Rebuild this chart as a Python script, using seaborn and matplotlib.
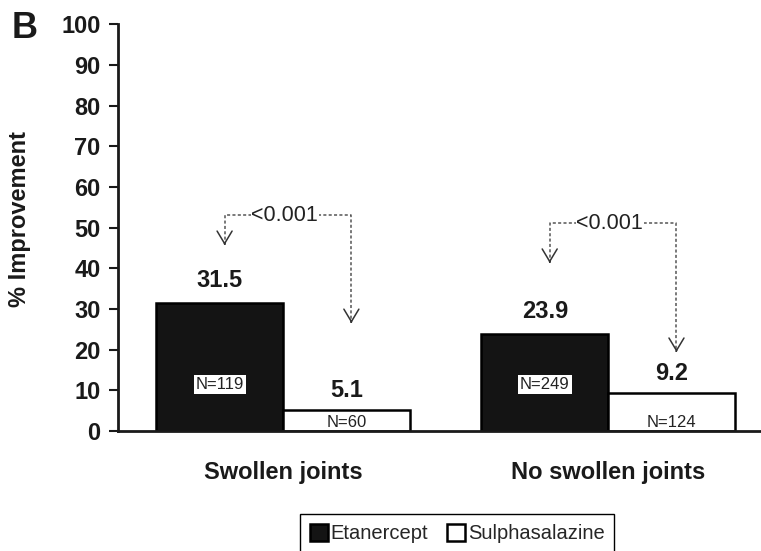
import matplotlib
matplotlib.use('Agg')
import matplotlib.pyplot as plt
import seaborn as sns
import pandas as pd

# ---- data ----
categories = ['Swollen joints', 'No swollen joints']
treatments = ['Etanercept', 'Sulphasalazine']
etanercept = [31.5, 23.9]
sulphasalazine = [5.1, 9.2]
n_etanercept = [119, 249]
n_sulphasalazine = [60, 124]
p_values = ['<0.001', '<0.001']
bracket_top = [53.0, 51.0]
tip_left = [45.7, 41.3]
tip_right = [26.5, 19.4]
yticks = [0, 10, 20, 30, 40, 50, 60, 70, 80, 90, 100]

df = pd.DataFrame({
    'group': categories + categories,
    'treatment': [treatments[0]] * len(categories) + [treatments[1]] * len(categories),
    'value': etanercept + sulphasalazine,
})

sns.set_theme(style='white')
plt.rcParams['font.family'] = ['Liberation Sans', 'DejaVu Sans']

fig = plt.figure(figsize=(7.61, 5.51), dpi=100)
ax = fig.add_axes([0.155, 0.218, 0.845, 0.738])

sns.barplot(data=df, x='group', y='value', hue='treatment', order=categories,
            hue_order=treatments, palette=['#141414', 'white'], edgecolor='black',
            linewidth=1.8, width=0.78, ax=ax, saturation=1)

handles, labels = ax.get_legend_handles_labels()
if ax.get_legend() is not None:
    ax.get_legend().remove()

ax.set_ylim(0, 100)
ax.set_xlim(-0.508, 1.47)
ax.set_yticks(yticks)
ax.set_yticklabels([str(t) for t in yticks], fontsize=17, fontweight='bold')
ax.set_xticks(range(len(categories)))
ax.set_xticklabels(categories, fontsize=17, fontweight='bold')
ax.tick_params(axis='y', direction='out', length=6.5, width=1.5, pad=6, left=True, colors='#1a1a1a')
ax.tick_params(axis='x', length=0, pad=22, colors='#1a1a1a')
ax.set_xlabel('')
ax.set_ylabel('% Improvement', fontsize=17, fontweight='bold', color='#1a1a1a')
ax.yaxis.set_label_coords(-0.136, 0.521)
for s in ['top', 'right']:
    ax.spines[s].set_visible(False)
for s in ['left', 'bottom']:
    ax.spines[s].set_linewidth(2)
    ax.spines[s].set_color('#1a1a1a')

cont_e = ax.containers[0]
cont_s = ax.containers[1]

for i in range(len(categories)):
    pe = cont_e.patches[i]
    ps = cont_s.patches[i]
    xe = pe.get_x() + pe.get_width() / 2
    xs = ps.get_x() + ps.get_width() / 2
    # value labels
    ax.text(xe, etanercept[i] + 2.6, f'{etanercept[i]}', ha='center', va='bottom',
            fontsize=17, fontweight='bold', color='#1a1a1a')
    ax.text(xs, sulphasalazine[i] + 2.0, f'{sulphasalazine[i]}', ha='center', va='bottom',
            fontsize=17, fontweight='bold', color='#1a1a1a')
    # N labels
    ax.text(xe, 11.5, f'N={n_etanercept[i]}', ha='center', va='center', fontsize=12,
            color='#222222', bbox=dict(fc='white', ec='none', pad=1.5))
    ax.text(xs, 2.0, f'N={n_sulphasalazine[i]}', ha='center', va='center', fontsize=12,
            color='#222222')
    # bracket
    xl = xe + 0.015
    xr = xs + 0.015
    top = bracket_top[i]
    ax.plot([xl, xl, xr, xr], [tip_left[i], top, top, tip_right[i]], color='#555555',
            lw=1.1, ls=(0, (2, 1.5)), zorder=4)
    for xx, tip in [(xl, tip_left[i]), (xr, tip_right[i])]:
        ax.annotate('', xy=(xx, tip), xytext=(xx, tip + 0.5),
                    arrowprops=dict(arrowstyle='->,head_length=0.5,head_width=0.3',
                                    color='#333333', lw=1.1, shrinkA=0, shrinkB=0,
                                    mutation_scale=18), zorder=5)
    ax.text((xl + xr) / 2 - 0.01, top, p_values[i], ha='center', va='center', fontsize=15.5,
            color='#222222', zorder=6, bbox=dict(fc='white', ec='none', pad=0.5))

fig.text(12 / 761, 1 - 38 / 551, 'B', fontsize=26, fontweight='bold', color='#1a1a1a',
         ha='left', va='baseline')

leg = fig.legend(handles, labels, loc='upper center', bbox_to_anchor=(457 / 761, 1 - 514 / 551),
                 ncol=2, frameon=True, fancybox=False, edgecolor='black', fontsize=14.5,
                 handlelength=0.9, handleheight=0.9, handletextpad=0.15, columnspacing=0.9,
                 borderpad=0.5, framealpha=1, borderaxespad=0)
leg.get_frame().set_linewidth(1.0)

fig.savefig('out.png', dpi=100)
